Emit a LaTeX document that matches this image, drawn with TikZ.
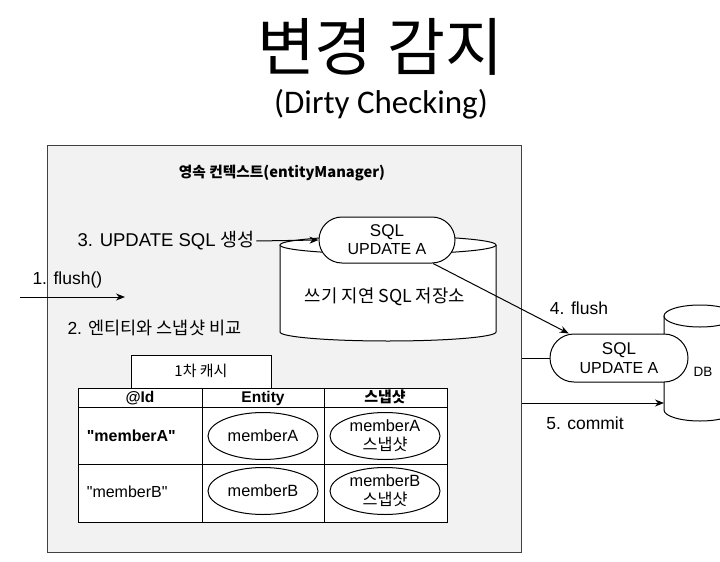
\documentclass[tikz,border=0pt]{standalone}
\usepackage{fontspec}
\setmainfont{Liberation Sans}
\newfontfamily\kr{Noto Sans CJK KR}
\newfontfamily\subttl{Carlito}
\usetikzlibrary{shapes.geometric,arrows.meta}
\tikzset{
  pill/.style={draw,fill=white,rounded corners=23pt,minimum width=136pt,minimum height=46pt,align=center,inner sep=0pt},
  memb/.style={draw,fill=white,ellipse,minimum width=110pt,minimum height=47pt,inner sep=0pt,align=center,font=\fontsize{16.3}{16}\selectfont},
  lbl/.style={inner sep=1pt,font=\fontsize{17.5}{19}\selectfont},
  hdr/.style={font=\bfseries\fontsize{15.5}{16}\selectfont}
}
\begin{document}
\begin{tikzpicture}[x=1pt,y=-1pt,>={Stealth[length=9pt,width=7pt]},line width=1pt]
\useasboundingbox (0,0) rectangle (720,562);
\node[font=\kr\fontsize{63}{64}\selectfont] (ttl) at (380,47) {변경 감지};
\node[font=\subttl\fontsize{33}{34}\selectfont] (sub) at (381,104) {(Dirty Checking)};
% persistence context
\node[draw=black!75,fill=black!5,line width=1.2pt,minimum width=474pt,minimum height=407pt,anchor=north west,inner sep=0pt] (ctx) at (47,145) {};
\node[font=\kr\bfseries\fontsize{14.7}{16}\selectfont] (ctxlbl) at (282,173) {영속 컨텍스트(entityManager)};
% write-behind store
\draw[fill=white] (280,245) -- (280,332) arc[start angle=180,end angle=360,x radius=108pt,y radius=9pt] -- (496,245);
\draw[fill=white] (388,245) ellipse[x radius=108pt,y radius=9pt];
\node[font=\kr\fontsize{17.8}{19}\selectfont] (store) at (385,297) {쓰기 지연 SQL 저장소};
\node[pill] (p1) at (387,240) {{\fontsize{17}{18}\selectfont SQL}\\[3pt]{\fontsize{16}{17}\selectfont UPDATE A}};
\node[lbl,anchor=west,font=\fontsize{18.5}{19}\selectfont] (l3) at (76,241) {3. UPDATE SQL {\kr 생성}};
\draw[->] (l3.east) -- (p1.west);
\node[lbl,anchor=south west] (l1) at (31,290) {1. flush()};
\coordinate (fin) at (20,297);
\coordinate (fout) at (125,297);
\draw[->] (fin) -- (fout);
\node[lbl,anchor=west] (l2) at (66,328) {2. {\kr 엔티티와 스냅샷 비교}};
% first-level cache
\draw[fill=white] (131,355) rectangle (271,388);
\node[font=\kr\fontsize{15}{16}\selectfont] (cache) at (201,371) {1차 캐시};
\draw[fill=white] (78,388) rectangle (447,522);
\draw (202,388) -- (202,522) (324,388) -- (324,522);
\draw (78,407) -- (447,407) (78,464) -- (447,464);
\node[hdr] (hid) at (140,398) {@Id};
\node[hdr] (hent) at (263,398) {Entity};
\node[hdr,font=\kr\bfseries\fontsize{15}{16}\selectfont] (hsnap) at (385,397) {스냅샷};
\node[hdr,anchor=west,font=\bfseries\fontsize{16}{16}\selectfont] (ida) at (83,436) {\textquotedbl memberA\textquotedbl};
\node[anchor=west,font=\fontsize{16}{16}\selectfont] (idb) at (83,492) {\textquotedbl memberB\textquotedbl};
\node[memb] (ea) at (263,436) {memberA};
\node[memb] (sa) at (385,436) {memberA\\[3pt]{\kr 스냅샷}};
\node[memb] (eb) at (263,491) {memberB};
\node[memb] (sb) at (385,491) {memberB\\[3pt]{\kr 스냅샷}};
% database
\draw[fill=white] (664,316) -- (664,410) arc[start angle=180,end angle=360,x radius=36pt,y radius=11pt] -- (736,316);
\draw[fill=white] (700,316) ellipse[x radius=36pt,y radius=11pt];
\node[font=\fontsize{13.5}{14}\selectfont] (db) at (703,372) {DB};
\coordinate (dbw) at (664,403);
\node[pill,minimum width=138pt,minimum height=48pt,rounded corners=24pt] (p2) at (619,358) {{\fontsize{17}{18}\selectfont SQL}\\[4pt]{\fontsize{16}{17}\selectfont UPDATE A}};
\draw (ctx.east |- p2) -- (p2.west);
\draw[->] (p1.-27) -- (p2.154);
\draw[->] (ctx.east |- dbw) -- (dbw);
\node[lbl] (l4) at (579,308) {4. flush};
\node[lbl] (l5) at (585,423) {5. commit};
\end{tikzpicture}
\end{document}
